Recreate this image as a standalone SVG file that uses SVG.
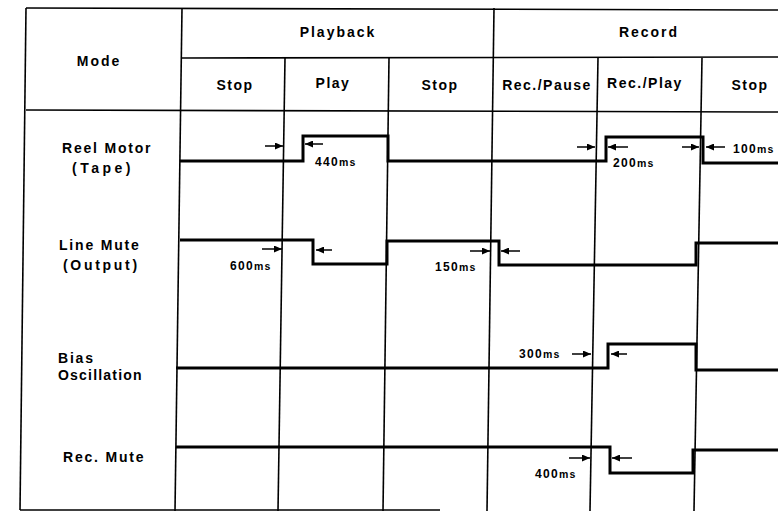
<svg xmlns="http://www.w3.org/2000/svg" width="778" height="511" viewBox="0 0 778 511">
<style>
text{font-family:"Liberation Sans",Arial,sans-serif;font-weight:bold;fill:#000}
.h{font-size:14px;letter-spacing:2px;text-anchor:middle}
.s{font-size:14px;letter-spacing:1.5px;text-anchor:middle}
.r{font-size:14px;letter-spacing:1.8px}
.t{font-size:12px;letter-spacing:1.3px}
.t tspan{font-size:10.5px}
.g{stroke:#000;stroke-width:1.6;fill:none}
.sig{stroke:#000;stroke-width:3;fill:none;stroke-linejoin:miter}
.ar{stroke:#000;stroke-width:1.5;marker-end:url(#ah)}
</style>
<defs>
<marker id="ah" markerUnits="userSpaceOnUse" markerWidth="8" markerHeight="7" refX="8" refY="3.5" orient="auto">
<path d="M0,0 L8,3.5 L0,7 z" fill="#000"/>
</marker>
</defs>
<rect width="778" height="511" fill="#fff"/>
<g id="grid" class="g">
<line x1="26" y1="8" x2="778" y2="10"/>
<line x1="182" y1="58" x2="778" y2="57"/>
<line x1="26" y1="110" x2="778" y2="112"/>
<line x1="20" y1="510" x2="440" y2="510"/>
<line x1="26" y1="8" x2="20" y2="510"/>
<line x1="182" y1="8" x2="175" y2="511"/>
<line x1="285" y1="58" x2="278" y2="511"/>
<line x1="389" y1="58" x2="383" y2="511"/>
<line x1="494" y1="8" x2="487" y2="511"/>
<line x1="598" y1="58" x2="590" y2="511"/>
<line x1="702" y1="58" x2="694" y2="511"/>
</g>
<g id="header">
<text class="h" x="99" y="66">Mode</text>
<text class="h" x="338" y="37">Playback</text>
<text class="h" x="649" y="37">Record</text>
<text class="s" x="235" y="90">Stop</text>
<text class="s" x="333" y="88">Play</text>
<text class="s" x="440" y="90">Stop</text>
<text class="s" x="547" y="90">Rec./Pause</text>
<text class="s" x="645" y="88">Rec./Play</text>
<text class="s" x="750" y="90">Stop</text>
</g>
<g id="reel-motor">
<text class="r" x="62" y="153">Reel Motor</text>
<text class="r" x="72" y="173" style="letter-spacing:3.5px">(Tape)</text>
<path class="sig" d="M180,161 H303 V136 H388 V161 H606 V137 H703 V163 H778"/>
<text class="t" x="315" y="166">440<tspan>ms</tspan></text>
<text class="t" x="613" y="167">200<tspan>ms</tspan></text>
<text class="t" x="733" y="153">100<tspan>ms</tspan></text>
</g>
<g id="line-mute">
<text class="r" x="59" y="250">Line Mute</text>
<text class="r" x="63" y="270" style="letter-spacing:2.7px">(Output)</text>
<path class="sig" d="M180,240 H313 V264 H387 V241 H499 V265 H696 V243 H778"/>
<text class="t" x="230" y="270">600<tspan>ms</tspan></text>
<text class="t" x="435" y="271">150<tspan>ms</tspan></text>
</g>
<g id="bias-oscillation">
<text class="r" x="58" y="363">Bias</text>
<text class="r" x="58" y="380" style="letter-spacing:1.2px">Oscillation</text>
<path class="sig" d="M176,368 H608 V344 H696 V370 H778"/>
<text class="t" x="519" y="358">300<tspan>ms</tspan></text>
</g>
<g id="rec-mute">
<text class="r" x="63" y="462">Rec. Mute</text>
<path class="sig" d="M176,447 H610 V473 H693 V450 H778"/>
<text class="t" x="535" y="478">400<tspan>ms</tspan></text>
</g>
<g id="connectors">
<line class="ar" x1="265" y1="146" x2="283" y2="146"/>
<line class="ar" x1="323" y1="144" x2="305" y2="144"/>
<line class="ar" x1="577" y1="147" x2="595" y2="147"/>
<line class="ar" x1="628" y1="147" x2="608" y2="147"/>
<line class="ar" x1="682" y1="147" x2="699" y2="147"/>
<line class="ar" x1="725" y1="147" x2="706" y2="147"/>
<line class="ar" x1="262" y1="249" x2="282" y2="249"/>
<line class="ar" x1="332" y1="250" x2="316" y2="250"/>
<line class="ar" x1="470" y1="251" x2="490" y2="251"/>
<line class="ar" x1="520" y1="251" x2="501" y2="251"/>
<line class="ar" x1="572" y1="354" x2="591" y2="354"/>
<line class="ar" x1="627" y1="354" x2="611" y2="354"/>
<line class="ar" x1="569" y1="458" x2="590" y2="458"/>
<line class="ar" x1="632" y1="458" x2="612" y2="458"/>
</g>
</svg>
